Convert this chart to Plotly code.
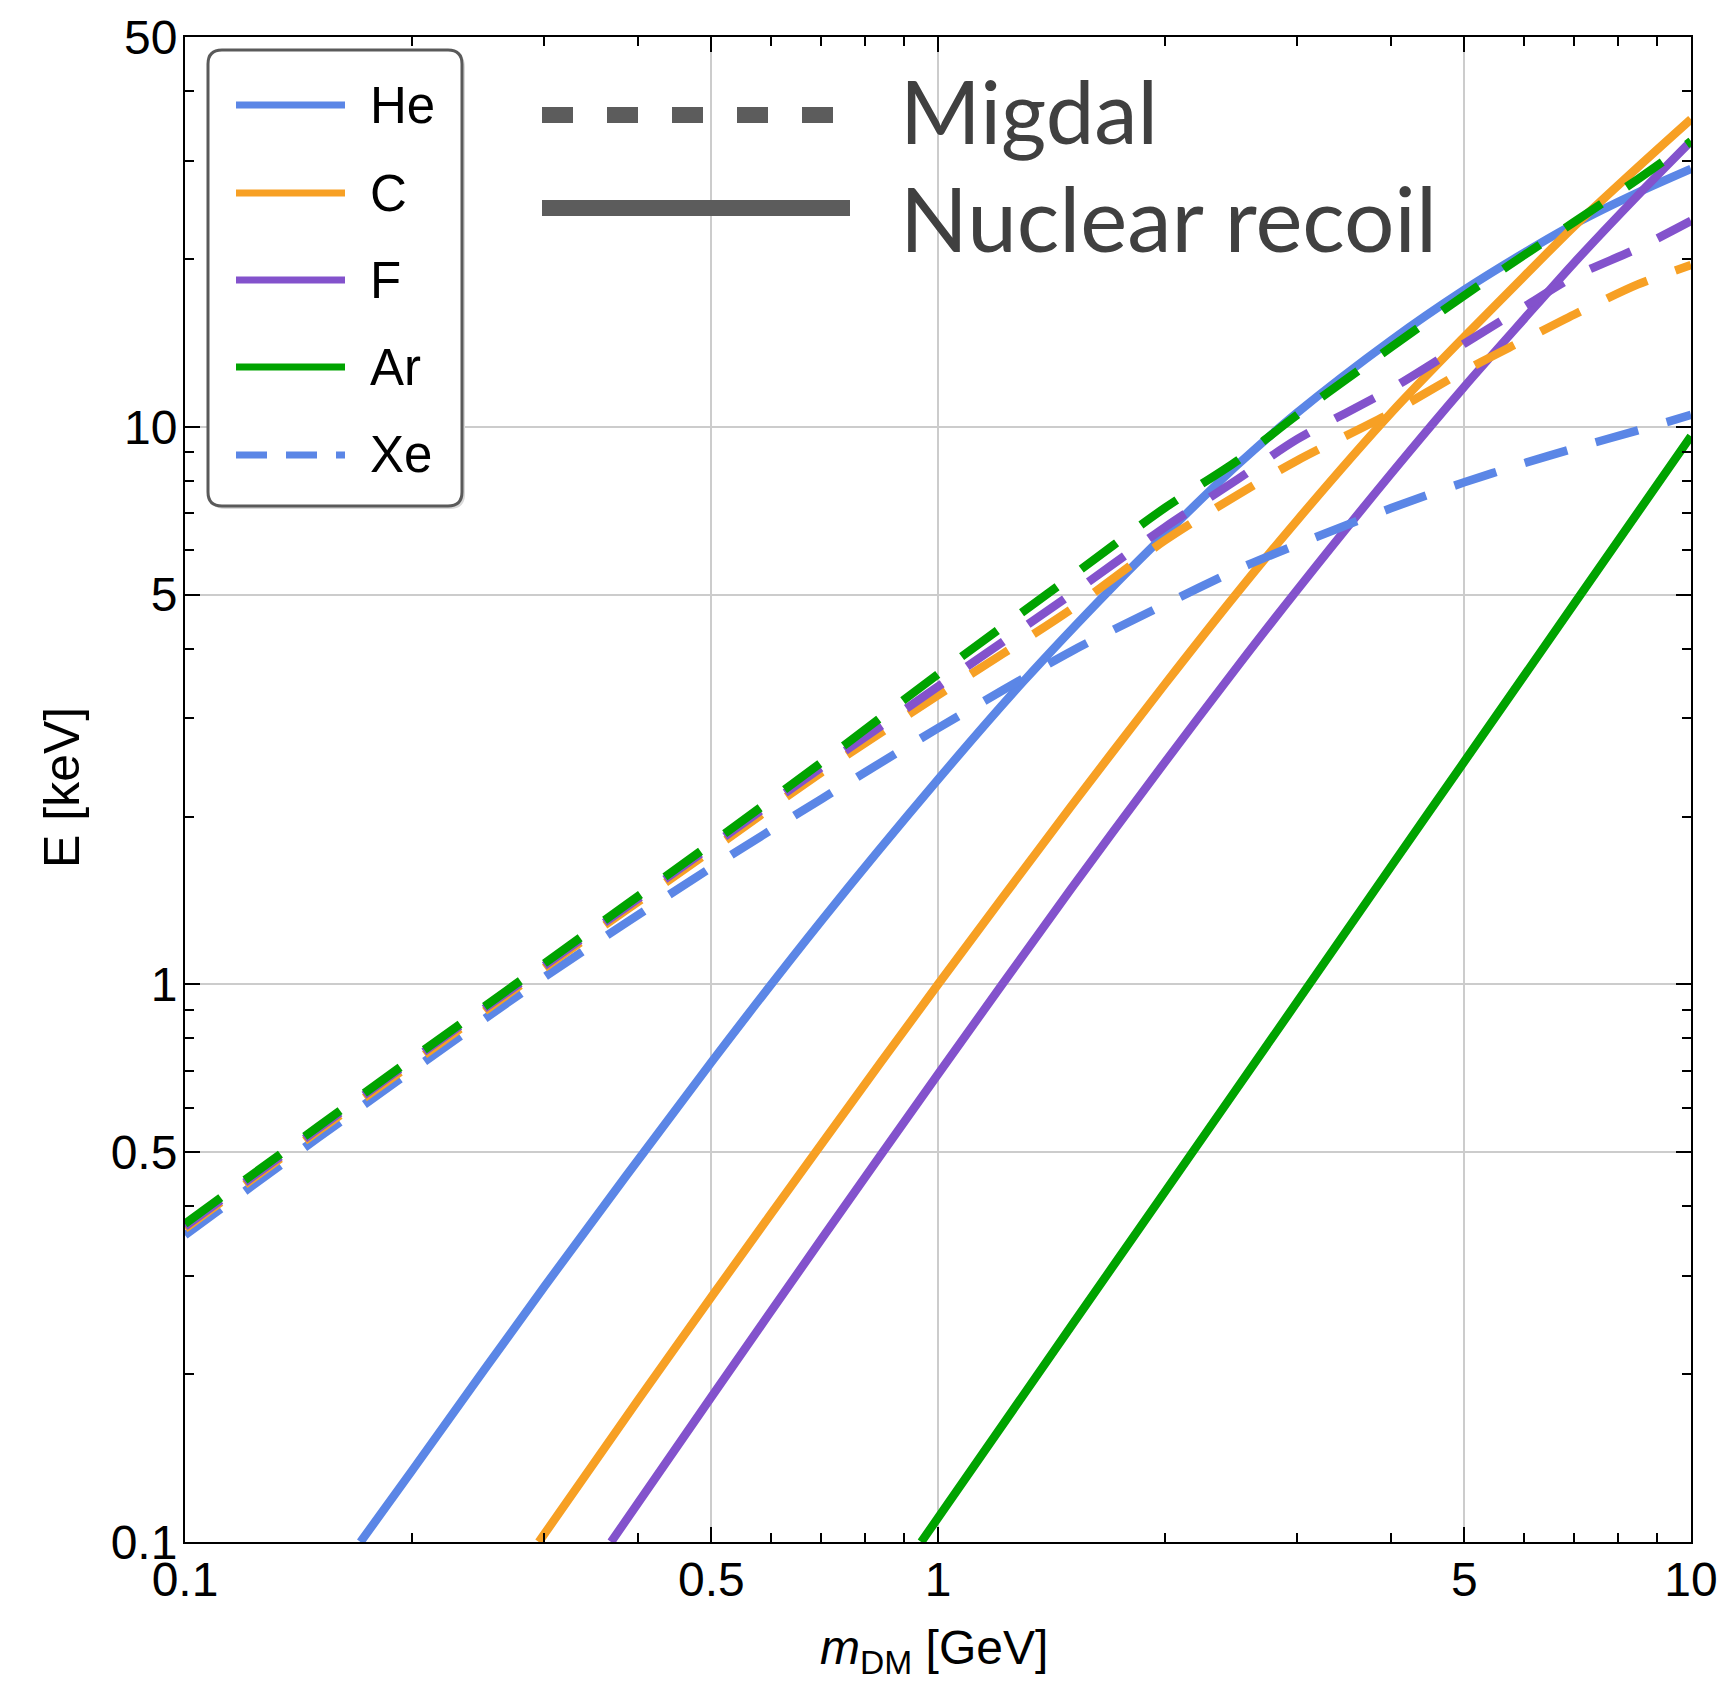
import plotly.graph_objects as go

# ---------------- data: maximal deposited energy [keV] vs DM mass [GeV] ----------------
# Nuclear recoil (solid)
m_he_nr = [0.171, 0.2, 0.3, 0.5, 0.7, 1.0, 1.3, 1.7, 2.0, 2.5, 3.0, 4.0, 5.0, 6.0, 7.0, 8.5, 10.0]
E_he_nr = [0.1, 0.134, 0.287, 0.725, 1.3, 2.33, 3.5, 5.14, 6.4, 8.55, 10.6, 14.3, 17.6, 20.5, 23.1, 26.3, 29.0]

m_c_nr = [0.295, 0.4, 0.5, 0.7, 1.0, 1.5, 2.0, 2.5, 3.0, 4.0, 5.0, 6.0, 7.0, 8.5, 10.0]
E_c_nr = [0.1, 0.18, 0.275, 0.517, 1.0, 2.08, 3.45, 5.05, 6.8, 10.6, 14.5, 18.6, 22.9, 29.2, 35.6]

m_f_nr = [0.368, 0.5, 0.7, 1.0, 1.5, 2.0, 2.5, 3.0, 4.0, 5.0, 6.0, 7.0, 8.5, 10.0]
E_f_nr = [0.1, 0.182, 0.349, 0.69, 1.48, 2.5, 3.72, 5.1, 8.25, 11.8, 15.6, 19.7, 26.0, 32.5]

m_ar_nr = [0.95, 1.5, 2.0, 3.0, 4.0, 5.0, 7.0, 10.0]
E_ar_nr = [0.1, 0.243, 0.424, 0.931, 1.63, 2.51, 4.82, 9.62]

# Migdal (dashed)
m_mig = [0.1, 0.15, 0.2, 0.3, 0.5, 0.7, 1.0, 1.5, 2.0, 2.5, 3.0, 4.0, 5.0, 6.0, 7.0, 8.5, 10.0]
E_he_mig = [0.355, 0.53, 0.70, 1.03, 1.62, 2.15, 2.88, 3.95, 4.8, 5.55, 6.15, 7.15, 7.95, 8.6, 9.15, 9.85, 10.5]
E_c_mig = [0.365, 0.545, 0.72, 1.07, 1.74, 2.4, 3.3, 4.7, 6.25, 7.55, 8.7, 10.6, 12.6, 14.3, 15.9, 18.0, 19.5]
E_f_mig = [0.368, 0.55, 0.73, 1.08, 1.77, 2.45, 3.42, 5.0, 6.6, 8.05, 9.5, 11.7, 14.1, 16.4, 18.6, 20.9, 23.4]
E_ar_mig = [0.372, 0.555, 0.735, 1.09, 1.79, 2.5, 3.6, 5.38, 7.15, 8.7, 10.5, 13.9, 17.2, 20.3, 23.3, 27.8, 32.5]

# ticks
x_major = [0.1, 0.5, 1, 5, 10]
x_major_text = ["0.1", "0.5", "1", "5", "10"]
x_minor = [0.2, 0.3, 0.4, 0.6, 0.7, 0.8, 0.9, 2, 3, 4, 6, 7, 8, 9]
y_major = [0.1, 0.5, 1, 5, 10, 50]
y_major_text = ["0.1", "0.5", "1", "5", "10", "50"]
y_minor = [0.2, 0.3, 0.4, 0.6, 0.7, 0.8, 0.9, 2, 3, 4, 6, 7, 8, 9, 20, 30, 40]

legend_names = ["He", "C", "F", "Ar", "Xe"]

# ---------------- style ----------------
BLUE = "#5b86e6"
ORANGE = "#f7a024"
PURPLE = "#8352cc"
GREEN = "#00a300"
GRAY = "#5c5c5c"
TEXT_GRAY = "#404040"
LW = 8.5
DASH = "44px,30px"
FONT = "Liberation Sans, Arial, sans-serif"

W, H = 1734, 1683
PL, PR, PT, PB = 185, 1691, 37, 1542


def fx(px):
    return (px - PL) / (PR - PL)


def fy(py):
    return (PB - py) / (PB - PT)


fig = go.Figure()

solid = [(m_he_nr, E_he_nr, BLUE, "He"), (m_c_nr, E_c_nr, ORANGE, "C"),
         (m_f_nr, E_f_nr, PURPLE, "F"), (m_ar_nr, E_ar_nr, GREEN, "Ar")]
for m, e, c, n in solid:
    fig.add_trace(go.Scatter(x=m, y=e, mode="lines", name=n + " nuclear recoil",
                             line=dict(color=c, width=LW, shape="spline", smoothing=0.8),
                             showlegend=False))

dashed = [(E_he_mig, BLUE, "He"), (E_c_mig, ORANGE, "C"),
          (E_f_mig, PURPLE, "F"), (E_ar_mig, GREEN, "Ar")]
for e, c, n in dashed:
    fig.add_trace(go.Scatter(x=m_mig, y=e, mode="lines", name=n + " Migdal",
                             line=dict(color=c, width=LW, dash=DASH, shape="spline", smoothing=0.8),
                             showlegend=False))

axis_common = dict(
    type="log", showline=True, linecolor="black", linewidth=2, mirror="allticks",
    ticks="inside", ticklen=15, tickwidth=2, tickcolor="black",
    showgrid=True, gridcolor="#cccccc", gridwidth=1.5, zeroline=False,
    tickfont=dict(family=FONT, size=48, color="black"),
)

fig.update_xaxes(range=[-1, 1], tickmode="array", tickvals=x_major, ticktext=x_major_text,
                 minor=dict(tickmode="array", tickvals=x_minor, ticks="inside", ticklen=9,
                            tickwidth=2, tickcolor="black", showgrid=False),
                 ticklabelstandoff=-6, **axis_common)
fig.update_yaxes(range=[-1, 1.69897], tickmode="array", tickvals=y_major, ticktext=y_major_text,
                 minor=dict(tickmode="array", tickvals=y_minor, ticks="inside", ticklen=9,
                            tickwidth=2, tickcolor="black", showgrid=False),
                 ticklabelstandoff=-4, **axis_common)

shapes = []
annotations = []


# legend box (rounded) with soft shadow
def rounded_rect(x0, y0, x1, y1, r):
    rx = r / (PR - PL)
    ry = r / (PB - PT)
    X0, X1 = fx(x0), fx(x1)
    Y0, Y1 = fy(y1), fy(y0)  # bottom, top in paper coords
    return (f"M {X0 + rx},{Y0} L {X1 - rx},{Y0} Q {X1},{Y0} {X1},{Y0 + ry} "
            f"L {X1},{Y1 - ry} Q {X1},{Y1} {X1 - rx},{Y1} L {X0 + rx},{Y1} "
            f"Q {X0},{Y1} {X0},{Y1 - ry} L {X0},{Y0 + ry} Q {X0},{Y0} {X0 + rx},{Y0} Z")


shapes.append(dict(type="path", xref="paper", yref="paper", path=rounded_rect(210, 52, 465, 509, 15),
                   fillcolor="#d9d9d9", line=dict(width=0), layer="above"))
shapes.append(dict(type="path", xref="paper", yref="paper", path=rounded_rect(208, 50, 462, 506, 14),
                   fillcolor="white", line=dict(color="#5a5a5a", width=3), layer="above"))

leg_colors = [BLUE, ORANGE, PURPLE, GREEN, BLUE]
leg_dash = ["solid", "solid", "solid", "solid", "31px,19px"]
leg_y = [105, 193, 280, 367, 455]
for name, c, d, yy in zip(legend_names, leg_colors, leg_dash, leg_y):
    shapes.append(dict(type="line", xref="paper", yref="paper", x0=fx(236), x1=fx(345),
                       y0=fy(yy), y1=fy(yy), line=dict(color=c, width=7, dash=d), layer="above"))
    annotations.append(dict(text=name, xref="paper", yref="paper", x=fx(368), y=fy(yy),
                            xanchor="left", yanchor="middle", showarrow=False,
                            font=dict(family=FONT, size=51, color="black")))

# line-style key
shapes.append(dict(type="line", xref="paper", yref="paper", x0=fx(542), x1=fx(834),
                   y0=fy(115), y1=fy(115), line=dict(color=GRAY, width=16, dash="31px,34px"),
                   layer="above"))
shapes.append(dict(type="line", xref="paper", yref="paper", x0=fx(542), x1=fx(850),
                   y0=fy(208), y1=fy(208), line=dict(color=GRAY, width=16), layer="above"))
annotations.append(dict(text="Migdal", xref="paper", yref="paper", x=fx(898), y=fy(110),
                        xanchor="left", yanchor="middle", showarrow=False,
                        font=dict(family="Lato, Open Sans, sans-serif", size=87, color=TEXT_GRAY)))
annotations.append(dict(text="Nuclear recoil", xref="paper", yref="paper", x=fx(898), y=fy(217),
                        xanchor="left", yanchor="middle", showarrow=False,
                        font=dict(family="Lato, Open Sans, sans-serif", size=89, color=TEXT_GRAY)))

# axis titles
annotations.append(dict(text="<i>m</i><sub>DM</sub> [GeV]", xref="paper", yref="paper",
                        x=fx(934), y=fy(1651), xanchor="center", yanchor="middle", showarrow=False,
                        font=dict(family=FONT, size=48, color="black")))
annotations.append(dict(text="E [keV]", xref="paper", yref="paper", x=fx(62), y=fy(788),
                        xanchor="center", yanchor="middle", textangle=-90, showarrow=False,
                        font=dict(family=FONT, size=50, color="black")))

fig.update_layout(
    width=W, height=H,
    margin=dict(l=PL, r=W - PR, t=PT, b=H - PB, pad=0),
    paper_bgcolor="white", plot_bgcolor="white",
    showlegend=False,
    shapes=shapes, annotations=annotations,
)

fig.write_html("out.html")
